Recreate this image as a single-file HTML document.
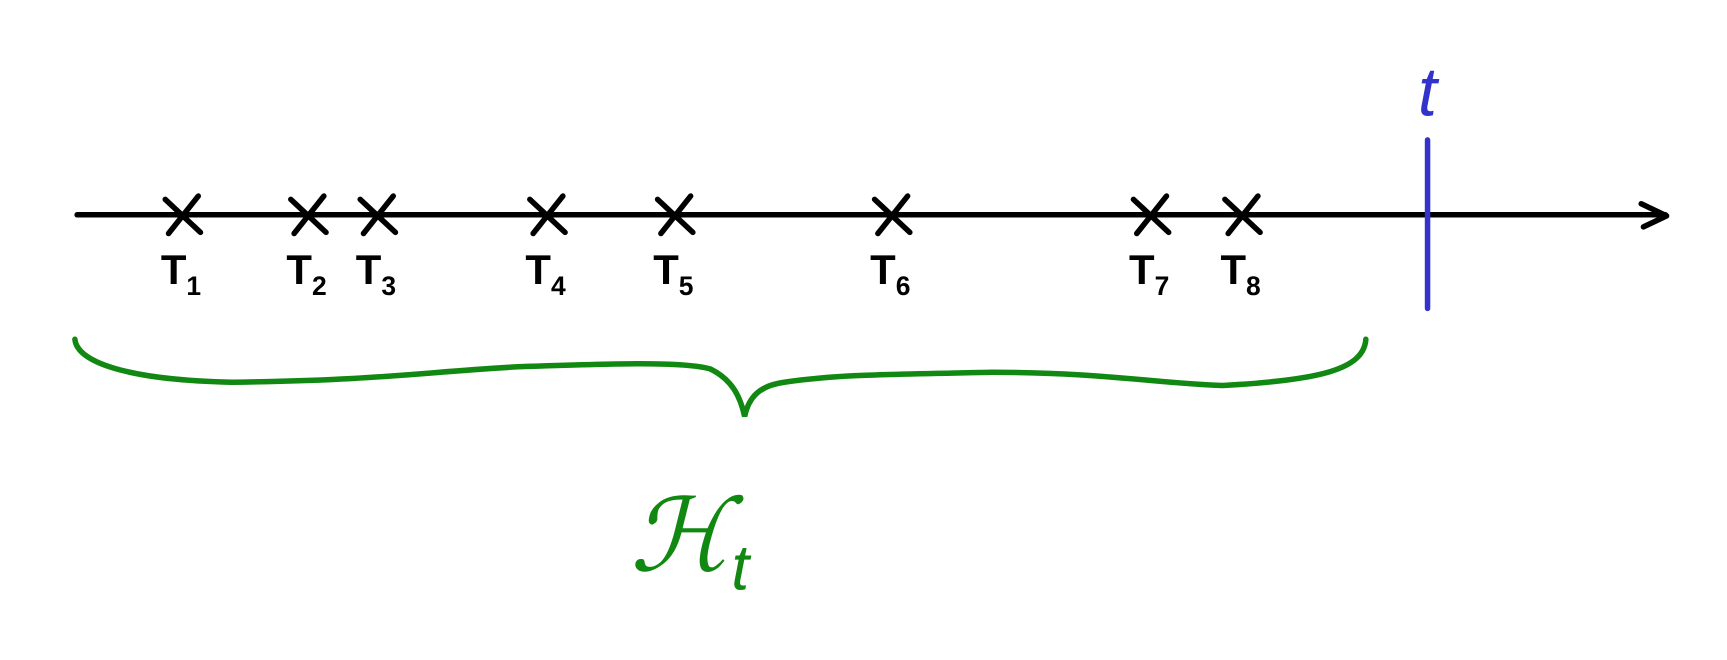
<!DOCTYPE html>
<html><head><meta charset="utf-8"><style>
html,body{margin:0;padding:0;background:#fff}
svg{display:block}
text{font-family:"Liberation Sans",sans-serif}
</style></head><body>
<svg id="chart" width="1727" height="660" viewBox="0 0 1727 660" xmlns="http://www.w3.org/2000/svg">
<g transform="scale(1.1015)">
<line x1="70" y1="195" x2="1512" y2="195" stroke="#000" stroke-width="5" stroke-linecap="round"/>
<path d="M1490,185 L1513,196 L1492,206" fill="none" stroke="#000" stroke-width="5" stroke-linecap="round" stroke-linejoin="round"/>
<g id="events"></g>
<line id="tline" x1="1296" y1="127" x2="1296" y2="280" stroke="#3333cc" stroke-width="5" stroke-linecap="round"/>
<text id="tlabel" x="1296" y="105" font-size="62" fill="#3333cc" text-anchor="middle" font-style="italic">t</text>
<path d="M68,308 C70,330 120,345 210,347 C350,345 380,338 470,333 C560,330 620,328 645,335 C665,345 672,360 676,378 C680,360 690,350 712,347 C760,340 800,340 900,338 C1000,338 1050,348 1110,350 C1200,345 1238,335 1240,308" fill="none" stroke="#118811" stroke-width="5" stroke-linecap="round"/>
<text x="572" y="518" font-size="92" fill="#118811" font-family="DejaVu Serif,serif" font-style="italic">ℋ</text>
<text x="664" y="535" font-size="58" fill="#118811" font-style="italic">t</text>
</g>
</svg>
<script>
const eventLabels = ["1","2","3","4","5","6","7","8"];
const eventTimes = [96, 210, 273, 427, 543, 740, 975, 1058];
const currentTime = 1226;
const x = v => 70 + v;
const ns = "http://www.w3.org/2000/svg";
const g = document.getElementById("events");
eventTimes.forEach((t, i) => {
  const cx = x(t), cy = 195;
  const p = document.createElementNS(ns, "path");
  p.setAttribute("d", `M${cx-16},${cy-14} L${cx+16},${cy+16} M${cx+14},${cy-17} L${cx-13},${cy+17}`);
  p.setAttribute("stroke", "#000"); p.setAttribute("stroke-width", "5"); p.setAttribute("stroke-linecap", "round"); p.setAttribute("fill", "none");
  
  
  g.appendChild(p);
  const tx = document.createElementNS(ns, "text");
  tx.setAttribute("x", cx - 20); tx.setAttribute("y", 258);
  tx.setAttribute("font-size", "38"); tx.setAttribute("font-weight", "bold");
  tx.textContent = "T";
  const s = document.createElementNS(ns, "tspan");
  s.setAttribute("font-size", "24"); s.setAttribute("dy", "10");
  s.textContent = eventLabels[i];
  tx.appendChild(s);
  
  
  g.appendChild(tx);
});
document.getElementById("tline").setAttribute("x1", x(currentTime));
document.getElementById("tline").setAttribute("x2", x(currentTime));
document.getElementById("tlabel").setAttribute("x", x(currentTime));
</script>
</body></html>
